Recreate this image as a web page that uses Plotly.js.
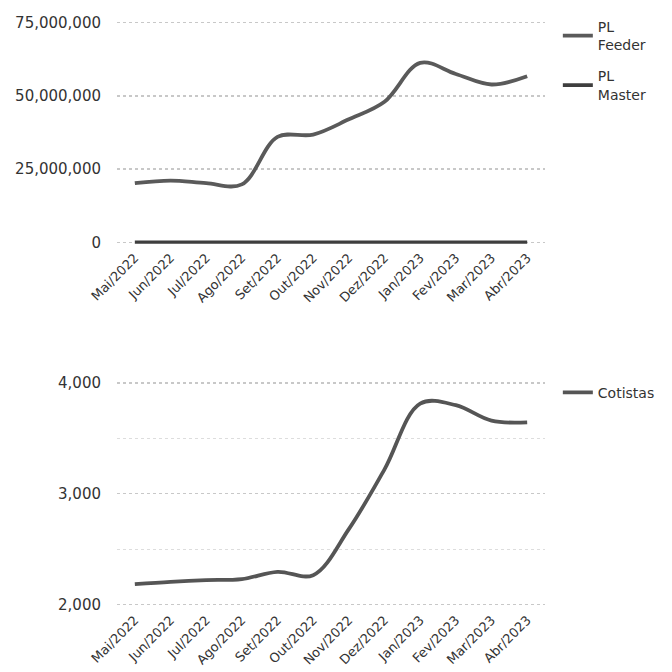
<!DOCTYPE html>
<html>
<head>
<meta charset="utf-8">
<script src="https://cdn.plot.ly/plotly-3.0.1.min.js"></script>
<style>html,body{margin:0;padding:0;background:#fff;}#chart{width:672px;height:672px;}</style>
</head>
<body>
<div id="chart"></div>
<script>
const months = ["Mai/2022","Jun/2022","Jul/2022","Ago/2022","Set/2022","Out/2022","Nov/2022","Dez/2022","Jan/2023","Fev/2023","Mar/2023","Abr/2023"];
const plFeeder = [20200000, 21100000, 20200000, 19800000, 36000000, 36800000, 42000000, 48000000, 61300000, 57500000, 53900000, 56700000];
const plMaster = [0, 0, 0, 0, 0, 0, 0, 0, 0, 0, 0, 0];
const cotistas = [2183, 2204, 2219, 2228, 2294, 2264, 2680, 3220, 3815, 3800, 3660, 3645];

const fontFam = "DejaVu Sans, Verdana, sans-serif";
const gridCol = "#c8c8c8";

const traces = [
  {x: months, y: plFeeder, name: "PL<br>Feeder", type: "scatter", mode: "lines", legendgroup: "a",
   line: {color: "#5a5a5a", width: 3.8, shape: "spline"}, xaxis: "x", yaxis: "y", legend: "legend"},
  {x: months, y: plMaster, name: "PL<br>Master", type: "scatter", mode: "lines", legendgroup: "b",
   line: {color: "#3e3e3e", width: 3.8, shape: "spline"}, xaxis: "x", yaxis: "y", legend: "legend"},
  {x: months, y: cotistas, name: "Cotistas", type: "scatter", mode: "lines",
   line: {color: "#555555", width: 3.8, shape: "spline"}, xaxis: "x2", yaxis: "y2", legend: "legend2"}
];

const xCommon = {
  type: "category", range: [-0.5, 11.5], showgrid: false, zeroline: false, showline: false,
  tickangle: -45, ticks: "", tickfont: {family: fontFam, size: 13, color: "#333"}, ticklabelstandoff: 3
};

const layout = {
  width: 672, height: 672,
  margin: {l: 117, r: 127, t: 18, b: 66},
  paper_bgcolor: "#ffffff", plot_bgcolor: "#ffffff",
  font: {family: fontFam, color: "#333"},
  xaxis: Object.assign({}, xCommon, {domain: [0, 1], anchor: "y"}),
  yaxis: {domain: [0.617, 0.9962], range: [-500000, 75500000], tickvals: [0, 25000000, 50000000, 75000000],
    tickformat: ",d", showgrid: true, gridcolor: gridCol, griddash: "dot", gridwidth: 1.3,
    zeroline: false, showline: false, ticks: "", ticklabelstandoff: 15,
    tickfont: {family: fontFam, size: 15, color: "#333"}, anchor: "x"},
  xaxis2: Object.assign({}, xCommon, {domain: [0, 1], anchor: "y2"}),
  yaxis2: {domain: [0, 0.3826], range: [1985, 4015], tickvals: [2000, 3000, 4000],
    tickformat: ",d", showgrid: true, gridcolor: gridCol, griddash: "dot", gridwidth: 1.3,
    minor: {tickvals: [2500, 3500], showgrid: true, gridcolor: "#dddddd", griddash: "dot", gridwidth: 1},
    zeroline: false, showline: false, ticks: "", ticklabelstandoff: 15,
    tickfont: {family: fontFam, size: 15, color: "#333"}, anchor: "x2"},
  legend: {x: 1.03, y: 1.012, xanchor: "left", yanchor: "top", bgcolor: "rgba(0,0,0,0)",
    font: {family: fontFam, size: 14, color: "#333"}, itemwidth: 30, tracegroupgap: 10},
  legend2: {x: 1.03, y: 0.39, xanchor: "left", yanchor: "top", bgcolor: "rgba(0,0,0,0)",
    font: {family: fontFam, size: 14, color: "#333"}, itemwidth: 30},
  showlegend: true
};

Plotly.newPlot("chart", traces, layout, {displayModeBar: false, staticPlot: true});
</script>
</body>
</html>
